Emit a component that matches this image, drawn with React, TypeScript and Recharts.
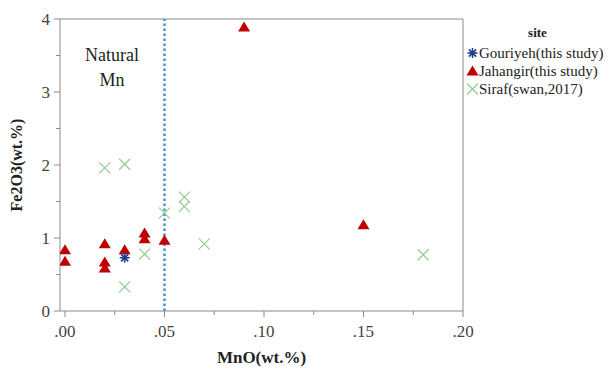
import React from 'react';
import { ScatterChart, Scatter, XAxis, YAxis, ReferenceLine } from 'recharts';

// MnO / Fe2O3 (wt.%) per site
const gouriyehMnO = [0.03];
const gouriyehFe2O3 = [0.73];

const jahangirMnO = [0, 0, 0.02, 0.02, 0.02, 0.03, 0.04, 0.04, 0.05, 0.09, 0.15];
const jahangirFe2O3 = [0.84, 0.68, 0.92, 0.67, 0.59, 0.84, 1.07, 0.99, 0.97, 3.89, 1.18];

const sirafMnO = [0.02, 0.03, 0.03, 0.04, 0.05, 0.06, 0.06, 0.07, 0.18];
const sirafFe2O3 = [1.96, 2.01, 0.33, 0.78, 1.34, 1.56, 1.43, 0.92, 0.77];

const xTicks = [0, 0.025, 0.05, 0.075, 0.1, 0.125, 0.15, 0.175, 0.2];
const yTicks = [0, 0.5, 1, 1.5, 2, 2.5, 3, 3.5, 4];
const naturalMnLimit = 0.05;

const toPoints = (xs: number[], ys: number[]) => xs.map((x, i) => ({ x, y: ys[i] }));

const FONT = '"Liberation Serif", "Times New Roman", serif';
const AXIS = '#8a8a8a';
const RED = '#c00000';
const GREEN = '#92cb92';
const NAVY = '#1f3d8f';

const Triangle = ({ cx, cy }: any) => (
    <polygon points={`${cx},${cy - 5.5} ${cx - 6},${cy + 4.5} ${cx + 6},${cy + 4.5}`} fill={RED} />
);

const Cross = ({ cx, cy }: any) => (
    <g stroke={GREEN} strokeWidth={1.2}>
        <line x1={cx - 5.5} y1={cy - 5.5} x2={cx + 5.5} y2={cy + 5.5} />
        <line x1={cx - 5.5} y1={cy + 5.5} x2={cx + 5.5} y2={cy - 5.5} />
    </g>
);

const Star = ({ cx, cy }: any) => (
    <g stroke={NAVY} strokeWidth={1.6}>
        <line x1={cx - 5} y1={cy} x2={cx + 5} y2={cy} />
        <line x1={cx} y1={cy - 5} x2={cx} y2={cy + 5} />
        <line x1={cx - 3.6} y1={cy - 3.6} x2={cx + 3.6} y2={cy + 3.6} />
        <line x1={cx - 3.6} y1={cy + 3.6} x2={cx + 3.6} y2={cy - 3.6} />
        <circle cx={cx} cy={cy} r={2.2} fill={NAVY} stroke="none" />
    </g>
);

const XTick = ({ x, y, payload }: any) => {
    const v = payload.value;
    const major = Math.round(v * 1000) % 50 === 0;
    const axisY = y - 9;
    return (
        <g>
            <line x1={x} x2={x} y1={axisY} y2={axisY + (major ? 6 : 4)} stroke={AXIS} />
            {major && (
                <text x={x} y={axisY + 26} textAnchor="middle" fontSize={17} fontFamily={FONT} fill="#444">
                    {v.toFixed(2).replace(/^0/, '')}
                </text>
            )}
        </g>
    );
};

const YTick = ({ x, y, payload }: any) => {
    const v = payload.value;
    const major = Number.isInteger(v);
    const axisX = x + 9;
    return (
        <g>
            <line x1={axisX} x2={axisX - (major ? 6 : 4)} y1={y} y2={y} stroke={AXIS} />
            {major && (
                <text x={axisX - 10} y={y + 6} textAnchor="end" fontSize={17} fontFamily={FONT} fill="#444">
                    {v}
                </text>
            )}
        </g>
    );
};

const legendItems = [
    { name: 'Gouriyeh(this study)', Icon: Star },
    { name: 'Jahangir(this study)', Icon: Triangle },
    { name: 'Siraf(swan,2017)', Icon: Cross },
];

export default function App() {
    return (
        <div style={{ position: 'absolute', left: 0, top: 0, width: 609, height: 371, background: '#fff', fontFamily: FONT }}>
            <ScatterChart width={609} height={371} margin={{ top: 19, right: 146, bottom: 0, left: 0 }}>
                <XAxis
                    type="number"
                    dataKey="x"
                    domain={[-0.0025, 0.2]}
                    ticks={xTicks}
                    allowDataOverflow
                    height={60}
                    stroke={AXIS}
                    tickLine={false}
                    tickSize={5}
                    tickMargin={4}
                    tick={<XTick />}
                    label={{ value: 'MnO(wt.%)', position: 'insideBottom', offset: 8, style: { fontFamily: FONT, fontWeight: 'bold', fontSize: 17, fill: '#222' } }}
                />
                <YAxis
                    type="number"
                    dataKey="y"
                    domain={[0, 4]}
                    ticks={yTicks}
                    allowDataOverflow
                    width={60}
                    stroke={AXIS}
                    tickLine={false}
                    tickSize={5}
                    tickMargin={4}
                    tick={<YTick />}
                    label={{ value: 'Fe2O3(wt.%)', angle: -90, position: 'insideLeft', offset: 16, style: { textAnchor: 'middle', fontFamily: FONT, fontWeight: 'bold', fontSize: 16, fill: '#222' } }}
                />
                <ReferenceLine y={4} stroke={AXIS} />
                <ReferenceLine x={0.2} stroke={AXIS} />
                <Scatter name="Siraf(swan,2017)" data={toPoints(sirafMnO, sirafFe2O3)} shape={<Cross />} isAnimationActive={false} />
                <ReferenceLine x={naturalMnLimit} stroke="#4a8fd4" strokeWidth={2.5} strokeDasharray="2.5 2.5" />
                <Scatter name="Jahangir(this study)" data={toPoints(jahangirMnO, jahangirFe2O3)} shape={<Triangle />} isAnimationActive={false} />
                <Scatter name="Gouriyeh(this study)" data={toPoints(gouriyehMnO, gouriyehFe2O3)} shape={<Star />} isAnimationActive={false} />
            </ScatterChart>

            <div style={{ position: 'absolute', left: 76, top: 43, width: 72, textAlign: 'center', fontSize: 18, lineHeight: '25px', color: '#222' }}>
                Natural<br />Mn
            </div>

            <div style={{ position: 'absolute', left: 466, top: 24, width: 143, color: '#222' }}>
                <div style={{ textAlign: 'center', fontWeight: 'bold', fontSize: 13, lineHeight: '18px', marginBottom: 2 }}>site</div>
                {legendItems.map(({ name, Icon }) => (
                    <div key={name} style={{ display: 'flex', alignItems: 'center', height: 18, fontSize: 15, whiteSpace: 'nowrap' }}>
                        <svg width={13} height={14} style={{ marginRight: 0, flexShrink: 0 }}>
                            <Icon cx={6.5} cy={7} />
                        </svg>
                        {name}
                    </div>
                ))}
            </div>
        </div>
    );
}
